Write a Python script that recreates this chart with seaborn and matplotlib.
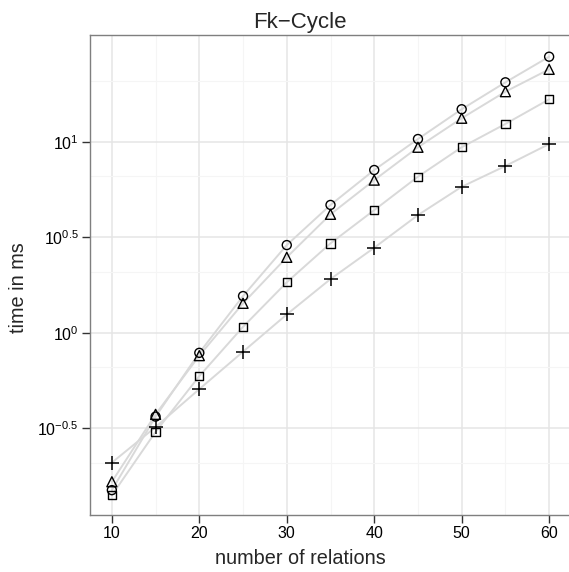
import numpy as np
import pandas as pd
import matplotlib
matplotlib.use("Agg")
import matplotlib.pyplot as plt
import seaborn as sns
from matplotlib.ticker import FixedLocator, NullFormatter

# ---- data (time in ms) ----
relations = [10, 15, 20, 25, 30, 35, 40, 45, 50, 55, 60]
series_circle = [0.150, 0.364, 0.785, 1.556, 2.877, 4.667, 7.11, 10.33, 14.79, 20.46, 27.86]
series_triangle = [0.166, 0.374, 0.759, 1.426, 2.483, 4.169, 6.295, 9.354, 13.27, 18.28, 23.93]
series_square = [0.141, 0.303, 0.593, 1.074, 1.837, 2.938, 4.385, 6.561, 9.354, 12.39, 16.67]
series_plus = [0.209, 0.321, 0.507, 0.796, 1.247, 1.910, 2.786, 4.130, 5.808, 7.464, 9.727]
series_names = ["circle", "triangle", "square", "plus"]
y_break_exponents = [-0.5, 0, 0.5, 1]
y_break_labels = ["$10^{-0.5}$", "$10^{0}$", "$10^{0.5}$", "$10^{1}$"]
x_breaks = [10, 20, 30, 40, 50, 60]

rows = []
for name, vals in zip(series_names, [series_circle, series_triangle, series_square, series_plus]):
    for x, v in zip(relations, vals):
        rows.append({"relations": x, "time": v, "series": name})
df = pd.DataFrame(rows)

sns.set_theme(style="white")
plt.rcParams["font.family"] = ["Liberation Sans", "DejaVu Sans"]
plt.rcParams["mathtext.fontset"] = "custom"
plt.rcParams["mathtext.rm"] = "Liberation Sans"
plt.rcParams["mathtext.it"] = "Liberation Sans"

fig = plt.figure(figsize=(5.69, 5.72), dpi=100)
ax = fig.add_axes([90/569, 1-515/572, (571-90)/569, (515-35)/572])

sns.lineplot(data=df, x="relations", y="time", units="series", estimator=None,
             color="#d9d9d9", linewidth=1.4, ax=ax, zorder=2, legend=False)

marker_map = {"circle": "o", "triangle": "^", "square": "s", "plus": "+"}
size_map = {"circle": 42, "triangle": 52, "square": 36, "plus": 90}
for name in series_names:
    sub = df[df["series"] == name]
    if marker_map[name] == "+":
        sns.scatterplot(data=sub, x="relations", y="time", marker="+", s=size_map[name],
                        color="black", linewidth=1.1, ax=ax, zorder=3, legend=False)
    else:
        sns.scatterplot(data=sub, x="relations", y="time", marker=marker_map[name],
                        s=size_map[name], facecolor="none", edgecolor="black",
                        linewidth=1.0, ax=ax, zorder=3, legend=False)

ax.set_yscale("log")
ax.set_xlim(7.5, 62.5)
ax.set_ylim(10**-0.954, 10**1.5586)

ymajor = [10**e for e in y_break_exponents]
ax.yaxis.set_major_locator(FixedLocator(ymajor))
ax.set_yticklabels(y_break_labels)
ext = [10**-1.0] + ymajor + [10**1.5]
yminor = [(a + b) / 2 for a, b in zip(ext[:-1], ext[1:])]
ax.yaxis.set_minor_locator(FixedLocator(yminor))
ax.yaxis.set_minor_formatter(NullFormatter())

ax.set_xticks(x_breaks)
ax.set_xticks([15, 25, 35, 45, 55], minor=True)

ax.grid(True, which="major", color="#e5e5e5", linewidth=1.1, zorder=0)
ax.grid(True, which="minor", color="#f5f5f5", linewidth=0.8, zorder=0)
ax.set_axisbelow(True)

for sp in ax.spines.values():
    sp.set_color("#7f7f7f")
    sp.set_linewidth(1.0)

ax.tick_params(axis="both", which="major", length=5.5, width=1.0, color="#333333",
               labelsize=11.5, labelcolor="black", pad=2.5, left=True, bottom=True)
ax.tick_params(axis="both", which="minor", length=0)

ax.set_xlabel("number of relations", fontsize=14.3)
ax.set_ylabel("time in ms", fontsize=14.3)
ax.xaxis.set_label_coords((300-90)/481, (515-564)/480)
ax.xaxis.label.set_va("baseline")
ax.yaxis.set_label_coords((24-90)/481, (515-288)/480)
ax.yaxis.label.set_va("baseline")
ax.yaxis.label.set_rotation_mode("anchor")

ax.text((300-90)/481, (515-28)/480, "Fk\u2212Cycle", transform=ax.transAxes,
        ha="center", va="baseline", fontsize=16)

fig.savefig("out.png", dpi=100)
